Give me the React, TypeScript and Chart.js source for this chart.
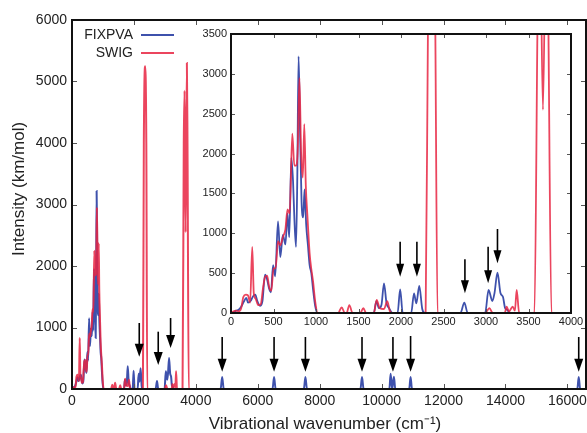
import React, { useEffect, useRef } from "react";
import { Chart, registerables } from "chart.js";

Chart.register(...registerables);

const FONT = "'Liberation Sans', Arimo, Arial, sans-serif";

// ---------- data (wavenumber cm^-1 / intensity km/mol) ----------
const fixpvaWavenumber = [
  0, 30, 60, 90, 120, 150, 180, 200, 230, 260, 285, 310, 340, 370, 400, 425, 450, 470, 495, 520,
  553, 580, 610, 640, 665, 685, 710, 730, 745, 765, 780, 795, 812, 830, 850, 865, 885, 905, 925, 945,
  965, 990, 1015, 1680, 1710, 1740, 1770, 1800, 1830, 1860, 1900, 1960, 1990, 2020, 2120, 2153, 2180,
  2215, 2250, 2280, 2700, 2745, 2785, 2990, 3030, 3075, 3100, 3135, 3170, 3200, 3225, 3250, 3280,
  4800, 4850, 4900, 6476, 6526, 6576, 7488, 7538, 7588, 9316, 9366, 9416, 10250, 10290, 10340, 10397,
  10440, 10890, 10935, 10980, 16320, 16365, 16410, 16600,
];
const fixpvaIntensity = [
  0, 10, 30, 40, 80, 140, 190, 130, 150, 210, 230, 150, 90, 150, 480, 420, 300, 260, 600, 460,
  1150, 700, 980, 860, 1250, 950, 1950, 1650, 1200, 830, 1700, 3220, 2300, 1400, 1200, 1550, 1100, 850, 600, 500,
  300, 90, 0, 0, 150, 60, 100, 370, 120, 60, 0, 0, 297, 0, 0, 247, 120,
  339, 50, 0, 0, 130, 0, 0, 289, 150, 250, 506, 250, 200, 60, 40, 0,
  0, 195, 0, 0, 195, 0, 0, 195, 0, 0, 195, 0, 0, 250, 0, 200,
  0, 0, 195, 0, 0, 195, 0, 0,
];

const swigWavenumber = [
  0, 30, 60, 90, 120, 145, 175, 200, 225, 250, 268, 290, 320, 350, 375, 400, 425, 450, 475, 500,
  525, 553, 580, 610, 640, 665, 690, 721, 745, 765, 785, 805, 825, 845, 862, 880, 900, 925, 945, 965,
  990, 1020, 1260, 1302, 1340, 1360, 1392, 1430, 1520, 1557, 1590, 1680, 1714, 1750, 1800, 1839, 1870,
  1900, 2290, 2320, 2365, 2400, 2430, 2990, 3040, 3080, 3220, 3243, 3270, 3314, 3340, 3361, 3390,
  3570, 3610, 3635, 3670, 3710, 3730, 3770, 16600,
];
const swigIntensity = [
  0, 20, 30, 20, 60, 200, 230, 220, 130, 830, 250, 180, 100, 110, 300, 450, 470, 320, 280, 560,
  560, 900, 850, 950, 1050, 1300, 1250, 2250, 1850, 1850, 2050, 2950, 2000, 1700, 2370, 1600, 1200, 750, 550, 400,
  150, 0, 0, 70, 0, 0, 100, 0, 0, 60, 0, 0, 165, 60, 50, 150, 20,
  0, 0, 4000, 5250, 4000, 0, 0, 60, 0, 0, 80, 20, 80, 30, 290, 0,
  0, 4000, 4850, 2550, 5300, 4000, 0, 0,
];

const seriesNames = ["FIXPVA", "SWIG"];
const seriesColors = ["rgba(52,72,168,0.95)", "rgba(232,36,66,0.85)"];

const mainXTicks = [0, 2000, 4000, 6000, 8000, 10000, 12000, 14000, 16000];
const mainYTicks = [0, 1000, 2000, 3000, 4000, 5000, 6000];
const insetXTicks = [0, 500, 1000, 1500, 2000, 2500, 3000, 3500, 4000];
const insetYTicks = [0, 500, 1000, 1500, 2000, 2500, 3000, 3500];

// arrows: wavenumber, tail intensity, tip intensity
const mainArrowX = [2172, 2785, 3184, 4850, 6526, 7538, 9366, 10365, 10935, 16365];
const mainArrowTop = [1073, 932, 1154, 846, 846, 846, 846, 846, 927, 846];
const mainArrowTip = [525, 390, 667, 281, 281, 281, 281, 281, 281, 281];

const insetArrowX = [1990, 2187, 2752, 3025, 3135];
const insetArrowTop = [895, 895, 674, 832, 1054];
const insetArrowTip = [455, 455, 247, 373, 624];

const toPts = (xs: number[], ys: number[]) => xs.map((x, i) => ({ x, y: ys[i] }));

function datasets(lw: number) {
  return [
    {
      label: seriesNames[1],
      data: toPts(swigWavenumber, swigIntensity),
      borderColor: seriesColors[1],
      borderWidth: lw,
      pointRadius: 0,
      fill: false,
      cubicInterpolationMode: "monotone" as const,
    },
    {
      label: seriesNames[0],
      data: toPts(fixpvaWavenumber, fixpvaIntensity),
      borderColor: seriesColors[0],
      borderWidth: lw,
      pointRadius: 0,
      fill: false,
      cubicInterpolationMode: "monotone" as const,
    },
  ];
}

function drawArrow(ctx: CanvasRenderingContext2D, x: number, y0: number, y1: number, hw: number, hl: number) {
  ctx.beginPath();
  ctx.moveTo(x, y0);
  ctx.lineTo(x, y1 - hl + 1);
  ctx.stroke();
  ctx.beginPath();
  ctx.moveTo(x - hw / 2, y1 - hl);
  ctx.lineTo(x + hw / 2, y1 - hl);
  ctx.lineTo(x, y1);
  ctx.closePath();
  ctx.fill();
}

function framePlugin(opts: {
  xt: number[]; yt: number[]; tl: number;
  ax: number[]; at: number[]; ap: number[]; hw: number; hl: number;
  white?: boolean; main?: boolean;
}) {
  return {
    id: "frame" + (opts.main ? "Main" : "Inset"),
    beforeDraw(chart: any) {
      if (!opts.white) return;
      const { ctx, chartArea: a } = chart;
      ctx.save();
      ctx.fillStyle = "#ffffff";
      ctx.fillRect(0, 0, a.right + 6, chart.height);
      ctx.restore();
    },
    afterDatasetsDraw(chart: any) {
      const { ctx, chartArea: a, scales } = chart;
      const x = scales.x, y = scales.y;
      ctx.save();
      ctx.strokeStyle = "#555";
      ctx.lineWidth = 1;
      ctx.beginPath();
      for (const v of opts.xt) {
        const p = Math.round(x.getPixelForValue(v)) + 0.5;
        ctx.moveTo(p, a.bottom); ctx.lineTo(p, a.bottom - opts.tl);
        ctx.moveTo(p, a.top); ctx.lineTo(p, a.top + opts.tl);
      }
      for (const v of opts.yt) {
        const p = Math.round(y.getPixelForValue(v)) + 0.5;
        ctx.moveTo(a.left, p); ctx.lineTo(a.left + opts.tl, p);
        ctx.moveTo(a.right, p); ctx.lineTo(a.right - opts.tl, p);
      }
      ctx.stroke();
      ctx.strokeStyle = "#111";
      ctx.lineWidth = 2;
      ctx.strokeRect(a.left, a.top, a.right - a.left, a.bottom - a.top);

      ctx.strokeStyle = "#000";
      ctx.fillStyle = "#000";
      ctx.lineWidth = 1.6;
      opts.ax.forEach((v, i) => {
        drawArrow(ctx, x.getPixelForValue(v), y.getPixelForValue(opts.at[i]), y.getPixelForValue(opts.ap[i]), opts.hw, opts.hl);
      });

      if (opts.main) {
        ctx.font = `14px ${FONT}`;
        ctx.textAlign = "right";
        ctx.textBaseline = "middle";
        ctx.fillStyle = "#222";
        const ly = [35, 53];
        seriesNames.forEach((n, i) => {
          ctx.fillText(n, 133, ly[i]);
          ctx.strokeStyle = seriesColors[i];
          ctx.lineWidth = 2;
          ctx.beginPath();
          ctx.moveTo(141, ly[i]);
          ctx.lineTo(174, ly[i]);
          ctx.stroke();
        });
        ctx.font = `17px ${FONT}`;
        ctx.fillStyle = "#222";
        ctx.textAlign = "center";
        ctx.fillText("Vibrational wavenumber (cm\u207B\u00B9)", (a.left + a.right) / 2 - 4, 424);
        ctx.save();
        ctx.translate(19, 189);
        ctx.rotate(-Math.PI / 2);
        ctx.fillText("Intensity (km/mol)", 0, 0);
        ctx.restore();
      }
      ctx.restore();
    },
  };
}

function scaleOpts(min: number, max: number, ticksArr: number[], size: number, pad: number, fit: (s: any) => void) {
  return {
    type: "linear" as const,
    min,
    max,
    afterBuildTicks: (s: any) => {
      s.ticks = ticksArr.map((v) => ({ value: v }));
    },
    afterFit: fit,
    ticks: {
      font: { family: FONT, size },
      color: "#222",
      padding: pad,
      maxRotation: 0,
      autoSkip: false,
      callback: (v: any) => String(v),
    },
    grid: { display: false, drawTicks: false },
    border: { display: false },
  };
}

export default function App() {
  const mainRef = useRef<HTMLCanvasElement>(null);
  const insetRef = useRef<HTMLCanvasElement>(null);

  useEffect(() => {
    const main = new Chart(mainRef.current as HTMLCanvasElement, {
      type: "line",
      data: { datasets: datasets(2) as any },
      options: {
        animation: false,
        responsive: false,
        devicePixelRatio: 1,
        events: [],
        layout: { padding: { top: 20, right: 1, left: 0, bottom: 0 } },
        plugins: { legend: { display: false }, tooltip: { enabled: false } },
        scales: {
          x: scaleOpts(0, 16600, mainXTicks, 14, 4, (s: any) => { s.height = 44; s.paddingLeft = 0; s.paddingRight = 0; }),
          y: scaleOpts(0, 6000, mainYTicks, 14, 5, (s: any) => { s.width = 72; s.paddingTop = 0; s.paddingBottom = 0; }),
        },
      } as any,
      plugins: [framePlugin({ xt: mainXTicks, yt: mainYTicks, tl: 5, ax: mainArrowX, at: mainArrowTop, ap: mainArrowTip, hw: 9, hl: 13, main: true })],
    });
    const inset = new Chart(insetRef.current as HTMLCanvasElement, {
      type: "line",
      data: { datasets: datasets(1.8) as any },
      options: {
        animation: false,
        responsive: false,
        devicePixelRatio: 1,
        events: [],
        layout: { padding: { top: 8, right: 16, left: 0, bottom: 0 } },
        plugins: { legend: { display: false }, tooltip: { enabled: false } },
        scales: {
          x: scaleOpts(0, 4000, insetXTicks, 11, 2, (s: any) => { s.height = 23; s.paddingLeft = 0; s.paddingRight = 0; }),
          y: scaleOpts(0, 3500, insetYTicks, 11, 4, (s: any) => { s.width = 36; s.paddingTop = 0; s.paddingBottom = 0; }),
        },
      } as any,
      plugins: [framePlugin({ xt: insetXTicks, yt: insetYTicks, tl: 4, ax: insetArrowX, at: insetArrowTop, ap: insetArrowTip, hw: 8, hl: 13, white: true })],
    });
    return () => {
      main.destroy();
      inset.destroy();
    };
  }, []);

  return (
    <div style={{ position: "absolute", left: 0, top: 0, width: 587, height: 433, overflow: "hidden", background: "#fff" }}>
      <canvas ref={mainRef} width={587} height={433} style={{ position: "absolute", left: 0, top: 0 }} />
      <canvas ref={insetRef} width={392} height={310} style={{ position: "absolute", left: 195, top: 26 }} />
    </div>
  );
}
